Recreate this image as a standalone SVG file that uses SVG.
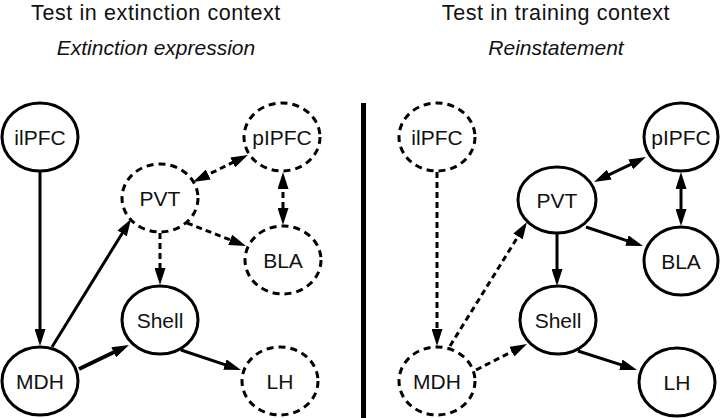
<svg xmlns="http://www.w3.org/2000/svg" width="720" height="418" viewBox="0 0 720 418">
<style>
  .title { font-family: "Liberation Sans", Arial, sans-serif; font-size: 21.5px; letter-spacing: 0.6px; fill: #111; text-anchor: middle; }
  .sub { font-family: "Liberation Sans", Arial, sans-serif; font-size: 21px; font-style: italic; fill: #111; text-anchor: middle; }
  .lbl { font-family: "Liberation Sans", Arial, sans-serif; font-size: 21px; fill: #111; text-anchor: middle; }
  .solid { fill: #fff; stroke: #000; stroke-width: 3; }
  .dash { fill: #fff; stroke: #000; stroke-width: 3; stroke-dasharray: 7 5; }
  .c { fill: none; stroke: #000; stroke-width: 3; marker-end: url(#ah); }
  .cd { fill: none; stroke: #000; stroke-width: 3; stroke-dasharray: 6 4; marker-end: url(#ah); }
  .both { marker-start: url(#ah); }
</style>
<defs>
  <marker id="ah" viewBox="0 0 17 11" refX="7" refY="5.5" markerWidth="17" markerHeight="11" markerUnits="userSpaceOnUse" orient="auto-start-reverse">
    <path d="M0,0 L17,5.5 L0,11 z" fill="#000"/>
  </marker>
</defs>
<rect width="720" height="418" fill="#fff"/>

<g id="titles">
  <text class="title" x="156" y="19.5">Test in extinction context</text>
  <text class="sub" x="156" y="55">Extinction expression</text>
  <text class="title" x="556" y="19.5">Test in training context</text>
  <text class="sub" x="556" y="55">Reinstatement</text>
</g>

<rect id="divider" x="361" y="103" width="5" height="315" fill="#000"/>

<g id="connectors">
  <line class="c" x1="40" y1="172" x2="40" y2="336"/>
  <line class="c" x1="52" y1="347" x2="125.8" y2="227.5"/>
  <line class="c" style="stroke-width:4" x1="79" y1="369" x2="120" y2="349.3"/>
  <line class="c" x1="181" y1="350" x2="231.5" y2="366.8"/>
  <line class="cd" x1="160" y1="233" x2="160" y2="275"/>
  <line class="cd" x1="187" y1="223" x2="236.7" y2="242.4"/>
  <line class="cd both" x1="202" y1="177.6" x2="239" y2="159.4"/>
  <line class="cd both" x1="283" y1="182" x2="283" y2="215"/>
  <line class="cd" x1="437" y1="172" x2="437" y2="336"/>
  <line class="cd" x1="450" y1="346" x2="521.7" y2="230.5"/>
  <line class="cd" x1="476" y1="370" x2="518.1" y2="348.5"/>
  <line class="c" x1="557" y1="233" x2="557" y2="276"/>
  <line class="c" x1="586" y1="227" x2="633.5" y2="242.8"/>
  <line class="c both" x1="603" y1="177.7" x2="637" y2="161.3"/>
  <line class="c both" x1="681" y1="182" x2="681" y2="216"/>
  <line class="c" x1="578" y1="351" x2="627.5" y2="366.9"/>
</g>

<g id="L-ilPFC"><ellipse class="solid" cx="40" cy="137" rx="38" ry="34"/><text class="lbl" x="40" y="145">ilPFC</text></g>
<g id="L-pIPFC"><ellipse class="dash" cx="282" cy="137" rx="38" ry="34"/><text class="lbl" x="282" y="145">pIPFC</text></g>
<g id="L-PVT"><ellipse class="dash" cx="160" cy="198" rx="38" ry="34"/><text class="lbl" x="160" y="206">PVT</text></g>
<g id="L-BLA"><ellipse class="dash" cx="283" cy="260" rx="38" ry="34"/><text class="lbl" x="283" y="268">BLA</text></g>
<g id="L-Shell"><ellipse class="solid" cx="160" cy="320" rx="38" ry="34"/><text class="lbl" x="160" y="328">Shell</text></g>
<g id="L-MDH"><ellipse class="solid" cx="40" cy="381" rx="38" ry="34"/><text class="lbl" x="40" y="389">MDH</text></g>
<g id="L-LH"><ellipse class="dash" cx="280" cy="381" rx="38" ry="34"/><text class="lbl" x="280" y="389">LH</text></g>

<g id="R-ilPFC"><ellipse class="dash" cx="437" cy="137" rx="38" ry="34"/><text class="lbl" x="437" y="145">ilPFC</text></g>
<g id="R-pIPFC"><ellipse class="solid" cx="681" cy="137" rx="37" ry="34"/><text class="lbl" x="681" y="145">pIPFC</text></g>
<g id="R-PVT"><ellipse class="solid" cx="557" cy="200" rx="39" ry="33"/><text class="lbl" x="557" y="208">PVT</text></g>
<g id="R-BLA"><ellipse class="solid" cx="681" cy="261" rx="37" ry="34"/><text class="lbl" x="681" y="269">BLA</text></g>
<g id="R-Shell"><ellipse class="solid" cx="558" cy="320" rx="38" ry="34"/><text class="lbl" x="558" y="328">Shell</text></g>
<g id="R-MDH"><ellipse class="dash" cx="437" cy="381" rx="38" ry="34"/><text class="lbl" x="437" y="389">MDH</text></g>
<g id="R-LH"><ellipse class="solid" cx="677" cy="382" rx="38" ry="34"/><text class="lbl" x="677" y="390">LH</text></g>
</svg>
